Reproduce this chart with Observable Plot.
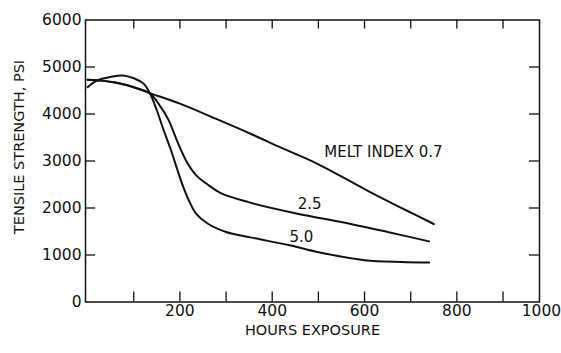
<!DOCTYPE html>
<html>
<head>
<meta charset="utf-8">
<script src="https://cdn.jsdelivr.net/npm/d3@7"></script>
<script src="https://cdn.jsdelivr.net/npm/@observablehq/plot@0.6"></script>
<style>
  html, body { margin: 0; padding: 0; background: #fff; }
  svg { display: block; }
</style>
</head>
<body>
<div id="chart"></div>
<script>
// Tick values
const xTickLabels = [200, 400, 600, 800, 1000];
const xMinorTicks = [100, 200, 300, 400, 500, 600, 700, 800, 900];
const yTickLabels = [0, 1000, 2000, 3000, 4000, 5000, 6000];
const yMinorTicks = [1000, 2000, 3000, 4000, 5000];

// Melt index 0.7
const hours07   = [0, 30, 60, 100, 130, 200, 280, 353, 420, 500, 606, 680, 750];
const tensile07 = [4730, 4710, 4670, 4570, 4460, 4220, 3890, 3580, 3280, 2930, 2370, 2000, 1660];

// Melt index 2.5
const hours25   = [0, 30, 60, 100, 135, 155, 175, 195, 215, 235, 260, 290, 350, 450, 570, 650, 740];
const tensile25 = [4730, 4710, 4670, 4570, 4440, 4200, 3880, 3400, 2980, 2700, 2500, 2310, 2120, 1890, 1660, 1490, 1290];

// Melt index 5.0
const hours50   = [0, 20, 50, 76, 100, 122, 135, 150, 165, 180, 195, 208, 220, 235, 260, 300, 353, 440, 500, 600, 680, 740];
const tensile50 = [4570, 4710, 4790, 4820, 4760, 4640, 4440, 4080, 3650, 3250, 2800, 2430, 2150, 1880, 1670, 1490, 1375, 1200, 1060, 890, 850, 840];

const curveLabels = [
  {text: "MELT INDEX 0.7", x: 641, y: 3190},
  {text: "2.5", x: 481, y: 2075},
  {text: "5.0", x: 463, y: 1380}
];

const xTitle = "HOURS EXPOSURE";
const yTitle = "TENSILE STRENGTH, PSI";

const toRows = (hs, vs) => hs.map((h, i) => ({h, v: vs[i]}));
const s07 = toRows(hours07, tensile07);
const s25 = toRows(hours25, tensile25);
const s50 = toRows(hours50, tensile50);

const font = "DejaVu Sans";
const ink = "#111";

const chart = Plot.plot({
  width: 561,
  height: 353,
  marginLeft: 85,
  marginRight: 22,
  marginTop: 19.5,
  marginBottom: 51.5,
  style: {fontFamily: font, background: "#fff", color: ink},
  x: {domain: [-4.5, 979], axis: null},
  y: {domain: [0, 6000], axis: null},
  marks: [
    Plot.frame({stroke: ink, strokeWidth: 1.5}),
    // inward ticks
    Plot.tickX(xMinorTicks, {x: d => d, stroke: ink, strokeWidth: 1.3, insetTop: 272}),
    Plot.tickX(xMinorTicks, {x: d => d, stroke: ink, strokeWidth: 1.3, insetBottom: 273}),
    Plot.tickY(yMinorTicks, {y: d => d, stroke: ink, strokeWidth: 1.3, insetRight: 444}),
    Plot.tickY(yMinorTicks, {y: d => d, stroke: ink, strokeWidth: 1.3, insetLeft: 444}),
    // tick labels
    Plot.text(yTickLabels, {x: -4.5, y: d => d, text: d => String(d), dx: -4, textAnchor: "end", fontSize: 15.5, fill: ink}),
    Plot.text(xTickLabels.filter(d => d < 1000), {x: d => d, y: 0, text: d => String(d), dy: 9, fontSize: 15.5, fill: ink}),
    Plot.text(xTickLabels.filter(d => d >= 1000), {x: d => d, y: 0, text: d => String(d), dy: 9, dx: 12, textAnchor: "end", fontSize: 15.5, fill: ink}),
    // axis titles
    Plot.text([xTitle], {frameAnchor: "bottom", text: d => d, lineAnchor: "middle", dy: 28, fontSize: 14.5, letterSpacing: 0.5, fill: ink}),
    Plot.text([yTitle], {frameAnchor: "left", text: d => d, textAnchor: "middle", lineAnchor: "middle", rotate: -90, dx: -66, dy: -14, fontSize: 14.5, fill: ink}),
    // curves
    Plot.line(s07, {x: "h", y: "v", curve: "catmull-rom", stroke: ink, strokeWidth: 2}),
    Plot.line(s25, {x: "h", y: "v", curve: "catmull-rom", stroke: ink, strokeWidth: 2}),
    Plot.line(s50, {x: "h", y: "v", curve: "catmull-rom", stroke: ink, strokeWidth: 2}),
    // curve labels
    Plot.text(curveLabels, {x: "x", y: "y", text: "text", fontSize: 15, letterSpacing: 0.8, fill: ink})
  ]
});

document.getElementById("chart").appendChild(chart);
</script>
</body>
</html>
